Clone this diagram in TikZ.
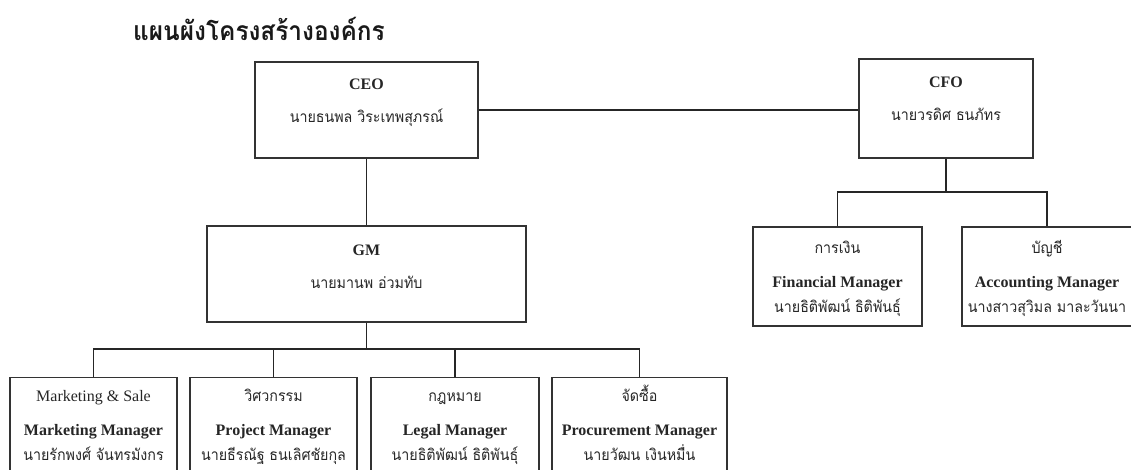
\documentclass[tikz,border=0pt]{standalone}
\usepackage{fontspec}
\setmainfont{Liberation Serif}
\newfontfamily\thaifont[Script=Thai,FakeStretch=0.92]{Loma}
\newcommand{\tha}[1]{{\thaifont\fontsize{15.5}{25}\selectfont #1}}
\tikzset{
  orgbox/.style={draw=black!80, line width=1.4pt, inner sep=0pt},
  orgtxt/.style={align=center, anchor=base, inner sep=0pt, text=black!85,
    font=\fontsize{16}{25}\selectfont},
  orgline/.style={line width=1.9pt, black!85}
}
\begin{document}
\begin{tikzpicture}[x=1pt,y=-1pt]
  \useasboundingbox (0,0) rectangle (1131,470);
  \node[anchor=base, inner sep=0pt, text=black!90] (title) at (259,41)
    {\thaifont\bfseries\fontsize{26.5}{27}\selectfont แผนผังโครงสร้างองค์กร};
  % top level
  \node[orgbox, minimum width=223, minimum height=96] (ceo) at (366.5,110) {};
  \node[orgbox, minimum width=174, minimum height=99] (cfo) at (946,108.5) {};
  \node[orgtxt] (ceotxt) at (366.5,123) {\textbf{CEO}\\[8pt]\tha{นายธนพล วิระเทพสุภรณ์}};
  \node[orgtxt] (cfotxt) at (946,121) {\textbf{CFO}\\[8pt]\tha{นายวรดิศ ธนภัทร}};
  % second level
  \node[orgbox, minimum width=319, minimum height=96] (gm) at (366.5,274) {};
  \node[orgtxt] (gmtxt) at (366.5,288) {\textbf{GM}\\[8pt]\tha{นายมานพ อ่วมทับ}};
  \node[orgbox, minimum width=169, minimum height=99] (fin) at (837.5,276.5) {};
  \node[orgbox, minimum width=170, minimum height=99] (acc) at (1047,276.5) {};
  \node[orgtxt] (fintxt) at (837.5,312)
    {\tha{การเงิน}\\[9pt]\textbf{Financial Manager}\\\tha{นายธิติพัฒน์ ธิติพันธุ์}};
  \node[orgtxt] (acctxt) at (1047,312)
    {\tha{บัญชี}\\[9pt]\textbf{Accounting Manager}\\\tha{นางสาวสุวิมล มาละวันนา}};
  % departments
  \node[orgbox, anchor=north, minimum width=167, minimum height=110] (mkt) at (93.5,377) {};
  \node[orgbox, anchor=north, minimum width=167, minimum height=110] (prj) at (273.5,377) {};
  \node[orgbox, anchor=north, minimum width=168, minimum height=110] (leg) at (455,377) {};
  \node[orgbox, anchor=north, minimum width=175, minimum height=110] (pro) at (639.5,377) {};
  \node[orgtxt] (mkttxt) at (93.5,460)
    {Marketing \& Sale\\[9pt]\textbf{Marketing Manager}\\\tha{นายรักพงศ์ จันทรมังกร}};
  \node[orgtxt] (prjtxt) at (273.5,460)
    {\tha{วิศวกรรม}\\[9pt]\textbf{Project Manager}\\\tha{นายธีรณัฐ ธนเลิศชัยกุล}};
  \node[orgtxt] (legtxt) at (455,460)
    {\tha{กฎหมาย}\\[9pt]\textbf{Legal Manager}\\\tha{นายธิติพัฒน์ ธิติพันธุ์}};
  \node[orgtxt] (protxt) at (639.5,460)
    {\tha{จัดซื้อ}\\[9pt]\textbf{Procurement Manager}\\\tha{นายวัฒน เงินหมื่น}};
  % connectors
  \coordinate (cfobar) at (946,192);
  \coordinate (gmbar) at (366.5,349);
  \draw[orgline] (ceo.east) -- (ceo.east -| cfo.west);
  \draw[orgline] (ceo.south) -- (gm.north);
  \draw[orgline] (cfo.south) -- (cfobar);
  \draw[orgline] (fin.north) -- (fin.north |- cfobar) -- (acc.north |- cfobar) -- (acc.north);
  \draw[orgline] (gm.south) -- (gmbar);
  \draw[orgline] (mkt.north) -- (mkt.north |- gmbar) -- (pro.north |- gmbar) -- (pro.north);
  \draw[orgline] (prj.north) -- (prj.north |- gmbar);
  \draw[orgline] (leg.north) -- (leg.north |- gmbar);
\end{tikzpicture}
\end{document}
